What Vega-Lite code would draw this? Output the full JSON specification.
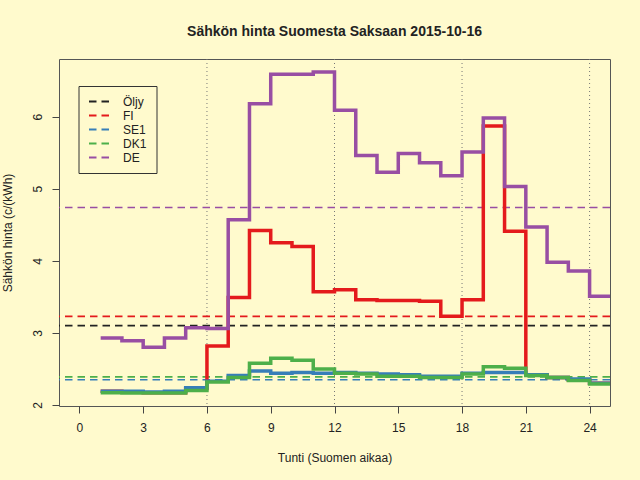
{
  "$schema": "https://vega.github.io/schema/vega-lite/v6.json",
  "width": 551,
  "height": 347,
  "autosize": {"type": "none"},
  "padding": {"left": 59, "top": 59, "right": 30, "bottom": 74},
  "background": "#FFFACD",
  "title": {
    "text": "Sähkön hinta Suomesta Saksaan 2015-10-16",
    "fontSize": 14,
    "fontWeight": "bold",
    "font": "Liberation Sans",
    "color": "#222222",
    "anchor": "middle",
    "offset": 20
  },
  "config": {
    "view": {"stroke": "#555555", "strokeWidth": 1, "fill": "#FFFACD"},
    "font": "Liberation Sans",
    "axis": {
      "grid": false,
      "domain": false,
      "tickSize": 7,
      "tickColor": "#444444",
      "labelColor": "#222222",
      "titleColor": "#222222",
      "labelFontSize": 12,
      "titleFontSize": 12,
      "titleFontWeight": "normal",
      "labelFont": "Liberation Sans",
      "titleFont": "Liberation Sans"
    }
  },
  "datasets": {
    "prices": [
      {"hour": 1, "series": "FI", "price": 2.19},
      {"hour": 2, "series": "FI", "price": 2.18},
      {"hour": 3, "series": "FI", "price": 2.17},
      {"hour": 4, "series": "FI", "price": 2.17},
      {"hour": 5, "series": "FI", "price": 2.23},
      {"hour": 6, "series": "FI", "price": 2.82},
      {"hour": 7, "series": "FI", "price": 3.49},
      {"hour": 8, "series": "FI", "price": 4.42},
      {"hour": 9, "series": "FI", "price": 4.25},
      {"hour": 10, "series": "FI", "price": 4.2},
      {"hour": 11, "series": "FI", "price": 3.57},
      {"hour": 12, "series": "FI", "price": 3.6},
      {"hour": 13, "series": "FI", "price": 3.46},
      {"hour": 14, "series": "FI", "price": 3.45},
      {"hour": 15, "series": "FI", "price": 3.45},
      {"hour": 16, "series": "FI", "price": 3.44},
      {"hour": 17, "series": "FI", "price": 3.23},
      {"hour": 18, "series": "FI", "price": 3.46},
      {"hour": 19, "series": "FI", "price": 5.87},
      {"hour": 20, "series": "FI", "price": 4.41},
      {"hour": 21, "series": "FI", "price": 2.42},
      {"hour": 22, "series": "FI", "price": 2.38},
      {"hour": 23, "series": "FI", "price": 2.35},
      {"hour": 24, "series": "FI", "price": 2.3},
      {"hour": 25, "series": "FI", "price": 2.3},
      {"hour": 1, "series": "SE1", "price": 2.19},
      {"hour": 2, "series": "SE1", "price": 2.19},
      {"hour": 3, "series": "SE1", "price": 2.18},
      {"hour": 4, "series": "SE1", "price": 2.19},
      {"hour": 5, "series": "SE1", "price": 2.24},
      {"hour": 6, "series": "SE1", "price": 2.33},
      {"hour": 7, "series": "SE1", "price": 2.41},
      {"hour": 8, "series": "SE1", "price": 2.47},
      {"hour": 9, "series": "SE1", "price": 2.44},
      {"hour": 10, "series": "SE1", "price": 2.45},
      {"hour": 11, "series": "SE1", "price": 2.44},
      {"hour": 12, "series": "SE1", "price": 2.45},
      {"hour": 13, "series": "SE1", "price": 2.44},
      {"hour": 14, "series": "SE1", "price": 2.43},
      {"hour": 15, "series": "SE1", "price": 2.42},
      {"hour": 16, "series": "SE1", "price": 2.4},
      {"hour": 17, "series": "SE1", "price": 2.4},
      {"hour": 18, "series": "SE1", "price": 2.44},
      {"hour": 19, "series": "SE1", "price": 2.45},
      {"hour": 20, "series": "SE1", "price": 2.45},
      {"hour": 21, "series": "SE1", "price": 2.42},
      {"hour": 22, "series": "SE1", "price": 2.38},
      {"hour": 23, "series": "SE1", "price": 2.36},
      {"hour": 24, "series": "SE1", "price": 2.3},
      {"hour": 25, "series": "SE1", "price": 2.3},
      {"hour": 1, "series": "DK1", "price": 2.17},
      {"hour": 2, "series": "DK1", "price": 2.165},
      {"hour": 3, "series": "DK1", "price": 2.165},
      {"hour": 4, "series": "DK1", "price": 2.165},
      {"hour": 5, "series": "DK1", "price": 2.2},
      {"hour": 6, "series": "DK1", "price": 2.32},
      {"hour": 7, "series": "DK1", "price": 2.38},
      {"hour": 8, "series": "DK1", "price": 2.58},
      {"hour": 9, "series": "DK1", "price": 2.65},
      {"hour": 10, "series": "DK1", "price": 2.62},
      {"hour": 11, "series": "DK1", "price": 2.5},
      {"hour": 12, "series": "DK1", "price": 2.44},
      {"hour": 13, "series": "DK1", "price": 2.43},
      {"hour": 14, "series": "DK1", "price": 2.4},
      {"hour": 15, "series": "DK1", "price": 2.4},
      {"hour": 16, "series": "DK1", "price": 2.38},
      {"hour": 17, "series": "DK1", "price": 2.38},
      {"hour": 18, "series": "DK1", "price": 2.43},
      {"hour": 19, "series": "DK1", "price": 2.53},
      {"hour": 20, "series": "DK1", "price": 2.51},
      {"hour": 21, "series": "DK1", "price": 2.41},
      {"hour": 22, "series": "DK1", "price": 2.38},
      {"hour": 23, "series": "DK1", "price": 2.34},
      {"hour": 24, "series": "DK1", "price": 2.29},
      {"hour": 25, "series": "DK1", "price": 2.29},
      {"hour": 1, "series": "DE", "price": 2.93},
      {"hour": 2, "series": "DE", "price": 2.89},
      {"hour": 3, "series": "DE", "price": 2.8},
      {"hour": 4, "series": "DE", "price": 2.93},
      {"hour": 5, "series": "DE", "price": 3.07},
      {"hour": 6, "series": "DE", "price": 3.06},
      {"hour": 7, "series": "DE", "price": 4.57},
      {"hour": 8, "series": "DE", "price": 6.18},
      {"hour": 9, "series": "DE", "price": 6.59},
      {"hour": 10, "series": "DE", "price": 6.59},
      {"hour": 11, "series": "DE", "price": 6.62},
      {"hour": 12, "series": "DE", "price": 6.09},
      {"hour": 13, "series": "DE", "price": 5.46},
      {"hour": 14, "series": "DE", "price": 5.23},
      {"hour": 15, "series": "DE", "price": 5.49},
      {"hour": 16, "series": "DE", "price": 5.36},
      {"hour": 17, "series": "DE", "price": 5.18},
      {"hour": 18, "series": "DE", "price": 5.51},
      {"hour": 19, "series": "DE", "price": 5.98},
      {"hour": 20, "series": "DE", "price": 5.03},
      {"hour": 21, "series": "DE", "price": 4.47},
      {"hour": 22, "series": "DE", "price": 3.98},
      {"hour": 23, "series": "DE", "price": 3.86},
      {"hour": 24, "series": "DE", "price": 3.51},
      {"hour": 25, "series": "DE", "price": 3.51}
    ],
    "averages": [
      {"series": "Öljy", "price": 3.1},
      {"series": "FI", "price": 3.23},
      {"series": "SE1", "price": 2.35},
      {"series": "DK1", "price": 2.39},
      {"series": "DE", "price": 4.74}
    ],
    "marks": [
      {"hour": 6},
      {"hour": 12},
      {"hour": 18},
      {"hour": 24}
    ]
  },
  "layer": [
    {
      "data": {"name": "marks"},
      "mark": {"type": "rule", "color": "#777777", "strokeWidth": 1, "strokeDash": [1, 3]},
      "encoding": {
        "x": {"field": "hour", "type": "quantitative"}
      }
    },
    {
      "data": {"name": "averages"},
      "mark": {"type": "rule", "strokeWidth": 1.7, "strokeDash": [7.5, 5]},
      "encoding": {
        "y": {"field": "price", "type": "quantitative"},
        "color": {"field": "series", "type": "nominal"}
      }
    },
    {
      "data": {"name": "prices"},
      "mark": {"type": "line", "interpolate": "step-after", "strokeWidth": 3.5, "clip": true},
      "encoding": {
        "x": {
          "field": "hour",
          "type": "quantitative",
          "scale": {"domain": [-0.96, 24.96], "nice": false, "zero": false},
          "axis": {
            "values": [0, 3, 6, 9, 12, 15, 18, 21, 24],
            "format": "d",
            "title": "Tunti (Suomen aikaa)",
            "labelPadding": 9,
            "titlePadding": 19
          }
        },
        "y": {
          "field": "price",
          "type": "quantitative",
          "scale": {"domain": [1.986, 6.8], "nice": false, "zero": false},
          "axis": {
            "values": [2, 3, 4, 5, 6],
            "format": "d",
            "title": "Sähkön hinta (c/(kWh)",
            "labelAngle": 270,
            "labelAlign": "center",
            "labelBaseline": "bottom",
            "labelPadding": 8,
            "titlePadding": 17
          }
        },
        "color": {
          "field": "series",
          "type": "nominal",
          "scale": {
            "domain": ["Öljy", "FI", "SE1", "DK1", "DE"],
            "range": ["#222222", "#E41A1C", "#377EB8", "#4DAF4A", "#984EA3"]
          },
          "legend": {
            "title": null,
            "orient": "none",
            "legendX": 19.5,
            "legendY": 27,
            "symbolType": "M-1,0H3",
            "symbolSize": 100,
            "symbolStrokeWidth": 2,
            "symbolDash": [7.5, 5],
            "labelFontSize": 12,
            "labelFont": "Liberation Sans",
            "labelColor": "#222222",
            "labelOffset": 23,
            "rowPadding": 2,
            "padding": 9.5,
            "strokeColor": "#333333",
            "fillColor": "#FFFACD",
            "cornerRadius": 0
          }
        }
      }
    }
  ]
}
